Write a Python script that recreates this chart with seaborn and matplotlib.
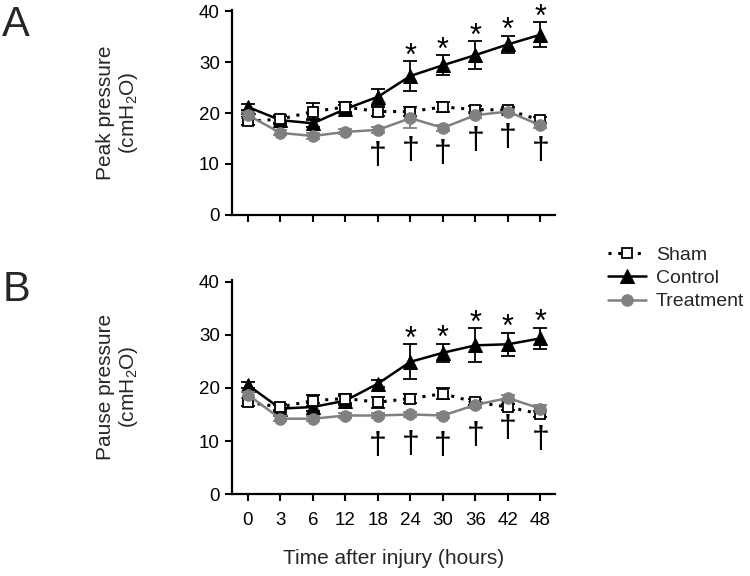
import numpy as np
import pandas as pd
import matplotlib
matplotlib.use('Agg')
import matplotlib.pyplot as plt
import seaborn as sns

# ---------------- data ----------------
hours = ['0', '3', '6', '12', '18', '24', '30', '36', '42', '48']

peak_sham = [18.4, 18.8, 20.3, 21.2, 20.3, 20.3, 21.2, 20.7, 20.6, 18.6]
peak_sham_se = [0.8, 0.8, 1.6, 1.0, 0.8, 0.8, 0.9, 0.6, 0.6, 0.6]
peak_ctrl = [21.2, 18.6, 18.0, 20.8, 23.2, 27.3, 29.4, 31.4, 33.5, 35.4]
peak_ctrl_se = [0.6, 0.8, 0.8, 0.8, 1.6, 2.9, 2.0, 2.7, 1.7, 2.5]
peak_trt = [19.6, 16.1, 15.5, 16.3, 16.7, 19.0, 17.1, 19.6, 20.3, 17.6]
peak_trt_se = [0.6, 0.5, 0.5, 0.5, 0.6, 2.0, 0.6, 0.6, 0.6, 0.6]
peak_star = [False, False, False, False, False, True, True, True, True, True]
peak_dagger = [False, False, False, False, True, True, True, True, True, True]

pause_sham = [17.3, 16.4, 17.6, 18.0, 17.3, 18.0, 18.9, 17.3, 16.4, 15.1]
pause_sham_se = [0.8, 0.6, 1.0, 0.8, 1.0, 0.8, 1.0, 0.6, 0.6, 0.6]
pause_ctrl = [20.5, 16.1, 16.4, 17.6, 20.8, 24.9, 26.6, 28.0, 28.2, 29.3]
pause_ctrl_se = [0.6, 0.6, 0.8, 0.8, 0.6, 3.3, 1.7, 3.2, 2.2, 2.0]
pause_trt = [18.7, 14.2, 14.2, 14.8, 14.8, 15.0, 14.8, 16.8, 18.1, 16.1]
pause_trt_se = [0.6, 0.5, 0.5, 0.5, 0.5, 0.5, 0.5, 0.6, 0.6, 0.6]
pause_star = peak_star
pause_dagger = peak_dagger

GREY = '#808080'

sns.set_theme(style="ticks")
plt.rcParams['font.family'] = ['Liberation Sans', 'DejaVu Sans']
plt.rcParams['mathtext.fontset'] = 'custom'
plt.rcParams['mathtext.rm'] = 'Liberation Sans'
plt.rcParams['mathtext.it'] = 'Liberation Sans'


def draw_panel(ax, sham, sham_se, ctrl, ctrl_se, trt, trt_se, stars, daggers, ylabel, dag_off):
    pos = np.arange(len(hours))
    df = pd.DataFrame({'pos': pos, 'sham': sham, 'ctrl': ctrl, 'trt': trt})

    # error bars
    ax.errorbar(pos, ctrl, yerr=ctrl_se, fmt='none', ecolor='black', elinewidth=1.3,
                capsize=5, capthick=1.3, zorder=2)
    ax.errorbar(pos, sham, yerr=sham_se, fmt='none', ecolor='black', elinewidth=1.3,
                capsize=5, capthick=1.3, zorder=3)
    ax.errorbar(pos, trt, yerr=trt_se, fmt='none', ecolor=GREY, elinewidth=1.3,
                capsize=5, capthick=1.3, zorder=4)

    sns.lineplot(data=df, x='pos', y='ctrl', ax=ax, color='black', linewidth=1.8,
                 marker='^', markersize=10, markeredgecolor='black', label='Control', zorder=3)
    sns.lineplot(data=df, x='pos', y='sham', ax=ax, color='black', linewidth=2.2,
                 linestyle=(0, (1, 2.2)), marker='s', markersize=7.5,
                 markerfacecolor='white', markeredgecolor='black', markeredgewidth=1.3,
                 label='Sham', zorder=4)
    sns.lineplot(data=df, x='pos', y='trt', ax=ax, color=GREY, linewidth=1.8,
                 marker='o', markersize=8.3, markeredgecolor=GREY, label='Treatment', zorder=5)

    for i in range(len(hours)):
        if stars[i]:
            ax.text(pos[i], ctrl[i] + ctrl_se[i] + 0.9, '*', ha='center', va='center',
                    fontsize=22, color='black')
        if daggers[i]:
            ax.text(pos[i], trt[i] - trt_se[i] - dag_off, '\u2020', ha='center', va='center',
                    fontsize=23, color='black')

    ax.set_xlim(-0.5, 9.45)
    ax.set_ylim(0, 40.3)
    ax.set_yticks([0, 10, 20, 30, 40])
    ax.set_xticks(pos)
    ax.set_xticklabels(hours)
    ax.set_xlabel('')
    ax.set_ylabel(ylabel, fontsize=15, linespacing=1.1)
    ax.yaxis.set_label_coords(-0.285, 0.5)
    ax.tick_params(axis='both', direction='out', length=5, width=1.5, labelsize=13.5,
                   color='black', labelcolor='black')
    ax.tick_params(axis='x', pad=8)
    for s in ['top', 'right']:
        ax.spines[s].set_visible(False)
    for s in ['left', 'bottom']:
        ax.spines[s].set_linewidth(1.6)
        ax.spines[s].set_color('black')
    ax.get_legend().remove()


fig = plt.figure(figsize=(7.5, 5.76), dpi=100)
axA = fig.add_axes([0.309, 0.627, 0.431, 0.356])
axB = fig.add_axes([0.309, 0.142, 0.431, 0.372])

draw_panel(axA, peak_sham, peak_sham_se, peak_ctrl, peak_ctrl_se, peak_trt, peak_trt_se,
           peak_star, peak_dagger, 'Peak pressure\n(cmH$_2$O)', 4.5)
draw_panel(axB, pause_sham, pause_sham_se, pause_ctrl, pause_ctrl_se, pause_trt, pause_trt_se,
           pause_star, pause_dagger, 'Pause pressure\n(cmH$_2$O)', 5.3)
axA.set_xticklabels([''] * len(hours))
axB.set_xlabel('Time after injury (hours)', fontsize=15, labelpad=14)

fig.text(0.003, 0.957, 'A', fontsize=30, va='center', ha='left')
fig.text(0.003, 0.497, 'B', fontsize=30, va='center', ha='left')

handles, labels = axA.get_legend_handles_labels()
order = [labels.index(n) for n in ['Sham', 'Control', 'Treatment']]
fig.legend([handles[i] for i in order], [labels[i] for i in order],
           loc='center left', bbox_to_anchor=(0.81, 0.517), frameon=False,
           fontsize=14, handlelength=2.0, handletextpad=0.5, labelspacing=0.3,
           borderaxespad=0, borderpad=0)

fig.savefig('out.png', dpi=100)
